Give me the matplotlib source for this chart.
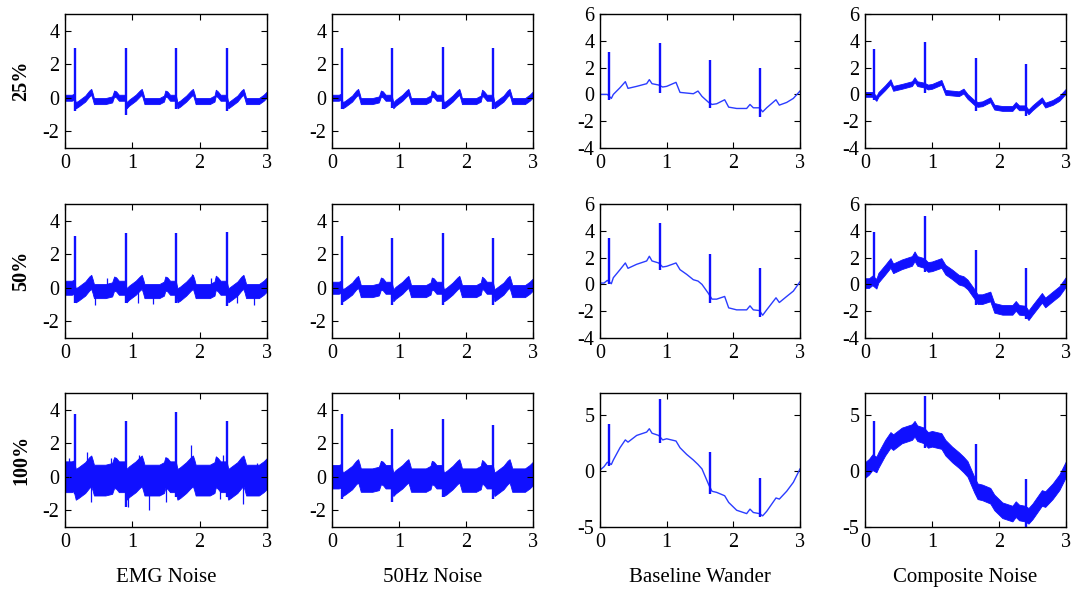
import numpy as np
import matplotlib.pyplot as plt

plt.rcParams['font.family'] = ['Liberation Serif', 'DejaVu Serif']
plt.rcParams['axes.unicode_minus'] = False

# clean ECG trace (no QRS), read from the 25% panels of columns 1-2
ecg_t = [0.00, 0.10, 0.13, 0.16, 0.20, 0.30, 0.36, 0.39, 0.41, 0.43, 0.60, 0.70, 0.73, 0.76, 0.80,
         0.89, 0.915, 0.95, 1.05, 1.11, 1.14, 1.16, 1.18, 1.40, 1.47, 1.49, 1.52, 1.56,
         1.645, 1.67, 1.71, 1.80, 1.87, 1.90, 1.92, 1.94, 2.15, 2.22, 2.24, 2.27, 2.31,
         2.40, 2.425, 2.46, 2.56, 2.62, 2.65, 2.67, 2.69, 2.88, 2.95, 3.00]
ecg_y = [0.0, 0.0, 0.05, -0.45, -0.35, -0.05, 0.25, 0.35, 0.1, -0.2, -0.2, -0.1, 0.25, 0.2, 0.0,
         0.0, -0.45, -0.3, 0.0, 0.25, 0.35, 0.1, -0.2, -0.2, -0.05, 0.25, 0.2, 0.0,
         0.0, -0.45, -0.35, -0.05, 0.25, 0.35, 0.1, -0.2, -0.2, -0.05, 0.3, 0.2, 0.0,
         0.0, -0.45, -0.35, -0.05, 0.25, 0.35, 0.1, -0.2, -0.2, 0.0, 0.2]

# baseline wander traces (no QRS), one per noise level
bw_t = [0.00, 0.06, 0.11, 0.17, 0.20, 0.30, 0.38, 0.42, 0.55, 0.70, 0.74, 0.78, 0.88, 0.94, 1.00,
        1.14, 1.20, 1.30, 1.40, 1.47, 1.53, 1.63, 1.68, 1.75, 1.87, 1.93, 2.05, 2.20, 2.25, 2.30,
        2.39, 2.44, 2.50, 2.64, 2.69, 2.80, 2.90, 3.00]
bw_25 = [0.0, 0.0, 0.0, -0.3, 0.0, 0.5, 0.95, 0.45, 0.6, 0.8, 1.1, 0.8, 0.7, 0.55, 0.6,
         0.9, 0.15, 0.1, 0.05, 0.25, -0.15, -0.6, -0.75, -0.7, -0.4, -0.95, -1.05, -1.05, -0.75, -1.0,
         -1.0, -1.3, -1.0, -0.4, -0.8, -0.6, -0.3, 0.25]
bw_50 = [0.1, 0.1, 0.3, 0.05, 0.5, 1.1, 1.6, 1.2, 1.5, 1.75, 2.1, 1.75, 1.6, 1.3, 1.35,
         1.6, 1.1, 0.75, 0.35, 0.25, 0.0, -0.7, -1.1, -1.1, -0.9, -1.75, -1.9, -1.9, -1.6, -1.9,
         -1.95, -2.3, -1.9, -1.0, -1.35, -0.9, -0.5, 0.2]
bw_100 = [0.1, 0.4, 0.8, 0.6, 1.0, 2.1, 2.8, 2.6, 3.2, 3.5, 3.8, 3.4, 3.2, 2.8, 2.9,
          2.7, 2.1, 1.5, 1.0, 0.6, 0.2, -1.2, -1.8, -1.9, -2.2, -2.8, -3.5, -3.8, -3.4, -3.7,
          -3.8, -4.0, -3.6, -2.4, -2.5, -1.8, -1.0, 0.2]

# R-peak times
r_t = [0.145, 0.90, 1.655, 2.41]
r_t_bw = [0.14, 0.895, 1.65, 2.40]

# R peak and S trough per panel: [row][col]
r_peak = [
    [[3.0, 3.0, 3.0, 3.0], [3.0, 3.0, 3.05, 3.0], [3.2, 3.8, 2.6, 2.0], [3.4, 3.9, 2.7, 2.3]],
    [[3.1, 3.25, 3.25, 3.35], [3.1, 3.0, 3.25, 3.0], [3.5, 4.6, 2.3, 1.2], [3.9, 5.1, 2.55, 1.25]],
    [[3.75, 3.3, 3.85, 3.3], [3.75, 2.85, 3.45, 3.1], [4.2, 6.5, 1.7, -0.6], [4.5, 6.7, 2.4, -0.7]],
]
s_val = [
    [[-0.8, -1.0, -0.7, -0.8], [-0.7, -0.6, -0.7, -0.7], [-0.4, 0.1, -1.0, -1.7], [-0.4, 0.1, -1.25, -1.6]],
    [[-0.9, -0.9, -0.9, -1.1], [-1.0, -1.0, -1.0, -1.0], [0.0, 1.1, -1.4, -2.4], [-0.1, 0.9, -1.5, -2.6]],
    [[-1.0, -1.8, -1.2, -1.2], [-1.3, -1.5, -1.2, -1.3], [0.5, 2.5, -2.0, -4.1], [0.2, 2.1, -1.8, -5.0]],
]

# noise band half-width per panel: [row][col]
noise_hw = [
    [0.18, 0.18, 0.0, 0.18],
    [0.42, 0.36, 0.0, 0.36],
    [0.92, 0.70, 0.0, 0.70],
]

# isolated noise spikes seen in the EMG panels (time, extreme value)
emg50_spk_t = [0.45, 0.62, 1.08, 1.30, 1.88, 2.17, 2.55, 2.80]
emg50_spk_y = [-1.0, 0.6, -0.9, -0.95, 0.8, 0.6, -0.9, -1.0]
emg100_spk_t = [0.06, 0.33, 0.38, 0.68, 0.93, 1.10, 1.25, 1.50, 1.87, 2.30, 2.35, 2.65, 2.85]
emg100_spk_y = [1.1, 1.5, -1.5, 1.1, -1.8, 1.3, -2.0, -1.5, 1.9, -1.3, 1.3, -1.6, 0.8]

row_labels = ['25%', '50%', '100%']
col_labels = ['EMG Noise', '50Hz Noise', 'Baseline Wander', 'Composite Noise']

W, H = 1076, 590
fig = plt.figure(figsize=(W / 100, H / 100), dpi=100)

lefts = [65, 332, 600, 865]
widths = [202, 201, 200, 201]
tops = [14, 204, 393]
hgt = 134
blue = '#1010ff'

for r in range(3):
    for c in range(4):
        ax = fig.add_axes([lefts[c] / W, 1 - (tops[r] + hgt) / H, widths[c] / W, hgt / H])
        if c < 2:
            t = np.array(ecg_t)
            y = np.array(ecg_y)
            rt = r_t
        else:
            t = np.array(bw_t)
            y = np.array([bw_25, bw_50, bw_100][r])
            rt = r_t_bw
        hw = noise_hw[r][c]
        if hw > 0:
            ax.fill_between(t, y - hw, y + hw, color=blue, lw=0.6, edgecolor=blue)
        else:
            ax.plot(t, y, color='#2a3cff', lw=1.0)
        ax.vlines(rt, s_val[r][c], r_peak[r][c], color=blue, lw=1.7)
        if c == 0 and r == 1:
            ax.vlines(emg50_spk_t, 0, emg50_spk_y, color=blue, lw=0.9)
        if c == 0 and r == 2:
            ax.vlines(emg100_spk_t, 0, emg100_spk_y, color=blue, lw=0.9)

        ax.set_xlim(0, 3)
        ax.set_xticks([0, 1, 2, 3])
        if c < 2:
            ax.set_ylim(-3, 5)
            ax.set_yticks([-2, 0, 2, 4])
        elif r < 2:
            ax.set_ylim(-4, 6)
            ax.set_yticks([-4, -2, 0, 2, 4, 6])
        else:
            ax.set_ylim(-5, 7)
            ax.set_yticks([-5, 0, 5])
        ax.tick_params(direction='in', top=True, right=True, length=4, width=0.8,
                       labelsize=14.5, pad=4)
        for sp in ax.spines.values():
            sp.set_linewidth(1.0)
        if c == 0:
            ax.set_ylabel(row_labels[r], fontsize=14.5, fontweight='bold', labelpad=8)
        if r == 2:
            ax.set_xlabel(col_labels[c], fontsize=15, labelpad=12)

fig.savefig('out.png', dpi=100)
